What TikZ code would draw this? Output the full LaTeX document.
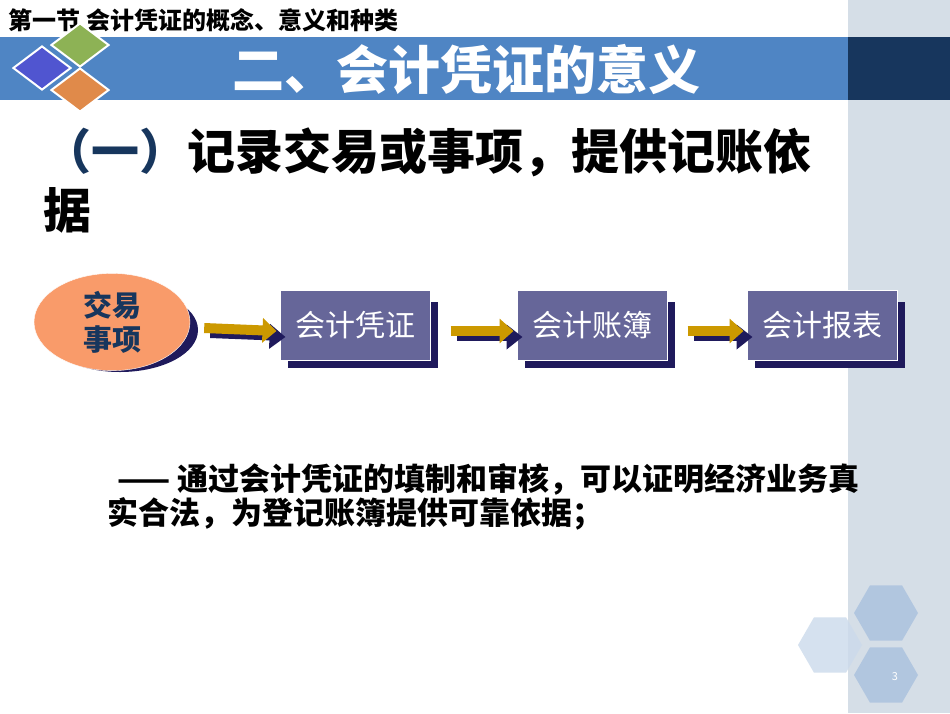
\documentclass[tikz,border=0pt]{standalone}
\usepackage{fontspec}
\setmainfont{Noto Sans CJK SC}
\usetikzlibrary{arrows.meta,shapes.geometric}
\definecolor{bandblue}{HTML}{4F85C4}
\definecolor{navy}{HTML}{17365D}
\definecolor{sidegray}{HTML}{D5DEE7}
\definecolor{boxpurple}{HTML}{666699}
\definecolor{shadowblue}{HTML}{1F1A5C}
\definecolor{gold}{HTML}{CC9900}
\definecolor{eggorange}{HTML}{F99B6A}
\definecolor{hexblue}{HTML}{A9C1DE}
\definecolor{gemgreen}{HTML}{8DB255}
\definecolor{gemblue}{HTML}{5055D0}
\definecolor{gemorange}{HTML}{E08A4A}
\tikzset{
  stepbox/.style={draw=white,line width=1pt,fill=boxpurple,minimum width=150pt,minimum height=70pt,text=white,font=\fontsize{30}{32}\selectfont},
  gem/.style={diamond,draw=white,line width=2pt,minimum width=58pt,minimum height=44pt,inner sep=0pt},
  hexa/.style={regular polygon,regular polygon sides=6,fill=hexblue,minimum size=64pt,inner sep=0pt,opacity=0.8}
}
\begin{document}
\begin{tikzpicture}[x=1pt,y=-1pt]
        % Background
        \useasboundingbox (0,0) rectangle (950,713);
        \fill[white] (0,0) rectangle (950,713);
        \fill[sidegray] (848,0) rectangle (950,713);
        \fill[bandblue] (0,37) rectangle (848,100);
        \fill[navy] (848,37) rectangle (950,100);

        % Section line
        \node[anchor=west,font=\bfseries\fontsize{24}{26}\selectfont] (sec) at (5,20) {第一节 会计凭证的概念、意义和种类};

        % Logo
        \node[gem,fill=gemgreen] (g1) at (80,45) {};
        \node[gem,fill=gemblue] (g2) at (42,68) {};
        \node[gem,fill=gemorange] (g3) at (80,90) {};

        % Title
        \node[text=white,font=\bfseries\fontsize{52}{54}\selectfont] (title) at (466,70) {二、会计凭证的意义};

        % Heading
        \node[anchor=west,font=\bfseries\fontsize{48}{50}\selectfont] (head) at (40,152) {\textcolor{navy}{（一）}记录交易或事项，提供记账依};
        \node[anchor=west,font=\bfseries\fontsize{48}{50}\selectfont] (head2) at (40,210) {据};

        % Flow
        \fill[shadowblue] (120,330) ellipse (78pt and 42pt);
        \node[ellipse,fill=eggorange,draw=white,minimum width=156pt,minimum height=82pt,text=navy,align=center,
              font=\bfseries\fontsize{29}{34}\selectfont] (deal) at (112,322) {交易\\事项};
        \foreach \n/\x/\t in {voucher/355/会计凭证,book/592/会计账簿,report/822/会计报表}{
          \fill[shadowblue] (\x-67,302) rectangle (\x+83,368);
          \node[stepbox] (\n) at (\x,325) {\t};
        }
        \foreach \a/\b/\s in {deal/voucher/14,voucher/book/20,book/report/20}{
          \draw[shadowblue,line width=8pt,-{Triangle[length=16pt,width=24pt]}] ([xshift=\s pt+6pt,yshift=-12pt]\a.east) -- ([xshift=6pt,yshift=-12pt]\b.west);
          \draw[gold,line width=10pt,-{Triangle[length=14pt,width=24pt]}] ([xshift=\s pt,yshift=-6pt]\a.east) -- ([xshift=-3pt,yshift=-6pt]\b.west);
        }

        % Note
        \node[anchor=west,font=\bfseries\fontsize{31}{33}\selectfont] (note1) at (114,479) {—— 通过会计凭证的填制和审核，可以证明经济业务真};
        \node[anchor=west,font=\bfseries\fontsize{31}{33}\selectfont] (note2) at (104,514) {实合法，为登记账簿提供可靠依据；};

        % Hexagons
        \node[hexa] (h1) at (886,613) {};
        \node[hexa,fill=hexblue!60] (h2) at (830,645) {};
        \node[hexa] (h3) at (886,675) {};
        \node[text=white,font=\fontsize{11}{12}\selectfont] (pg) at (895,677) {3};
\end{tikzpicture}
\end{document}
